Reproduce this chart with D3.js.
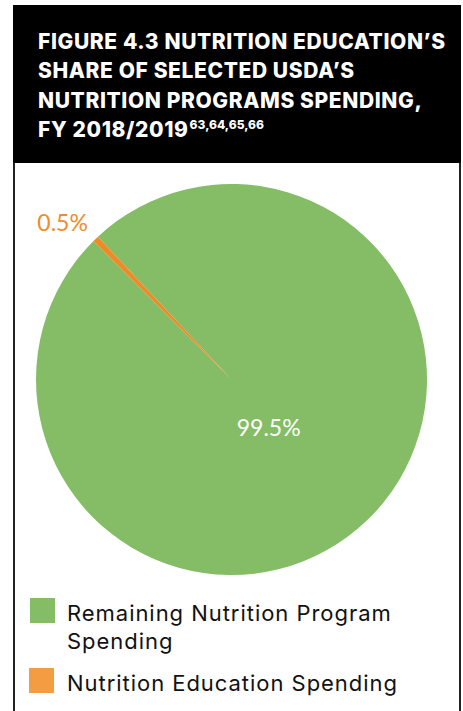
<!DOCTYPE html>
<html>
<head>
<meta charset="utf-8">
<script src="https://cdn.jsdelivr.net/npm/d3@7"></script>
<style>
  html, body { margin: 0; padding: 0; background: #ffffff; }
  svg { display: block; }
</style>
</head>
<body>
<div id="chart"></div>
<script>
// Spending split, FY 2018/2019
const categories = ["Remaining Nutrition Program Spending", "Nutrition Education Spending"];
const shares = [99.5, 0.5];
const shareLabels = ["99.5%", "0.5%"];
const legendLines = [["Remaining Nutrition Program", "Spending"], ["Nutrition Education Spending"]];
const titleLines = ["FIGURE 4.3 NUTRITION EDUCATION\u2019S", "SHARE OF SELECTED USDA\u2019S", "NUTRITION PROGRAMS SPENDING,", "FY 2018/2019"];
const titleRefs = "63,64,65,66";

const W = 463, H = 711;
const sliceColors = ["#84bd65", "#ef8a26"];
const legendColors = ["#84bd65", "#f39c42"];
const labelColors = ["#ffffff", "#f08c2b"];

const svg = d3.select("#chart").append("svg")
  .attr("width", W).attr("height", H);

// Panel: black title band and framed body
svg.append("rect").attr("x", 13).attr("y", 5).attr("width", 448).attr("height", 158).attr("fill", "#000");
svg.append("line").attr("x1", 14).attr("x2", 14).attr("y1", 163).attr("y2", H)
  .attr("stroke", "#222").attr("stroke-width", 2);
svg.append("line").attr("x1", 460).attr("x2", 460).attr("y1", 163).attr("y2", H)
  .attr("stroke", "#222").attr("stroke-width", 2);

// Spread letters so a reference line reaches the given width
function fitSpacing(sel, target) {
  const node = sel.node();
  const n = node.getNumberOfChars();
  const len = node.getComputedTextLength();
  return (target - len) / (n - 1);
}

// Title
const titleFont = "'Inter', 'Roboto', sans-serif";
const title = svg.append("g").attr("font-family", titleFont).attr("font-weight", 800)
  .attr("fill", "#fff").attr("font-size", 21);
const titleTexts = titleLines.map((t, i) =>
  title.append("text").attr("x", 38).attr("y", 49 + i * 29.4).text(t));
const titleSpacing = fitSpacing(titleTexts[0], 407);
title.attr("letter-spacing", titleSpacing);
titleTexts[titleTexts.length - 1].append("tspan")
  .attr("font-size", 12).attr("dy", -8).attr("dx", 1).attr("letter-spacing", 0).text(titleRefs);

// Pie
const cx = 231.5, cy = 379.5, r = 195.5;
const startOffset = -43.1 * Math.PI / 180;
const pie = d3.pie().sort(null).value(d => d)
  .startAngle(startOffset).endAngle(startOffset + 2 * Math.PI);
const arcs = pie(shares);
const arc = d3.arc().innerRadius(0).outerRadius(r);

const g = svg.append("g").attr("transform", `translate(${cx},${cy})`);
g.selectAll("path").data(arcs).join("path")
  .attr("d", arc)
  .attr("fill", (d, i) => sliceColors[i]);

// Value labels
const innerLabel = d3.arc().innerRadius(r * 0.34).outerRadius(r * 0.34);
const outerLabel = d3.arc().innerRadius(r * 1.17).outerRadius(r * 1.17);
const labelShift = [[-9, 9], [-10, 16]];
g.selectAll("text.val").data(arcs).join("text")
  .attr("class", "val")
  .attr("transform", (d, i) => {
    const p = (i === 0 ? innerLabel : outerLabel).centroid(d);
    return `translate(${p[0] + labelShift[i][0]},${p[1] + labelShift[i][1]})`;
  })
  .attr("text-anchor", "middle")
  .attr("font-family", "'Lato', 'Inter', sans-serif")
  .attr("font-weight", 400)
  .attr("font-size", 23)
  .attr("fill", (d, i) => labelColors[i])
  .text((d, i) => shareLabels[i]);

// Legend
const legend = svg.append("g").attr("font-family", "'Inter', 'Roboto', sans-serif")
  .attr("font-size", 22).attr("fill", "#111");
const legendY = [598, 668];
const legendTexts = [];
categories.forEach((c, i) => {
  legend.append("rect").attr("x", 30 - i).attr("y", legendY[i]).attr("width", 25).attr("height", 25)
    .attr("fill", legendColors[i]);
  const t = legend.append("text").attr("x", 67).attr("y", legendY[i] + 23);
  legendLines[i].forEach((line, j) => {
    t.append("tspan").attr("x", 67).attr("dy", j === 0 ? 0 : 27.5).text(line);
  });
  legendTexts.push(t);
});
legend.attr("letter-spacing", fitSpacing(legendTexts[1], 330));
</script>
</body>
</html>
